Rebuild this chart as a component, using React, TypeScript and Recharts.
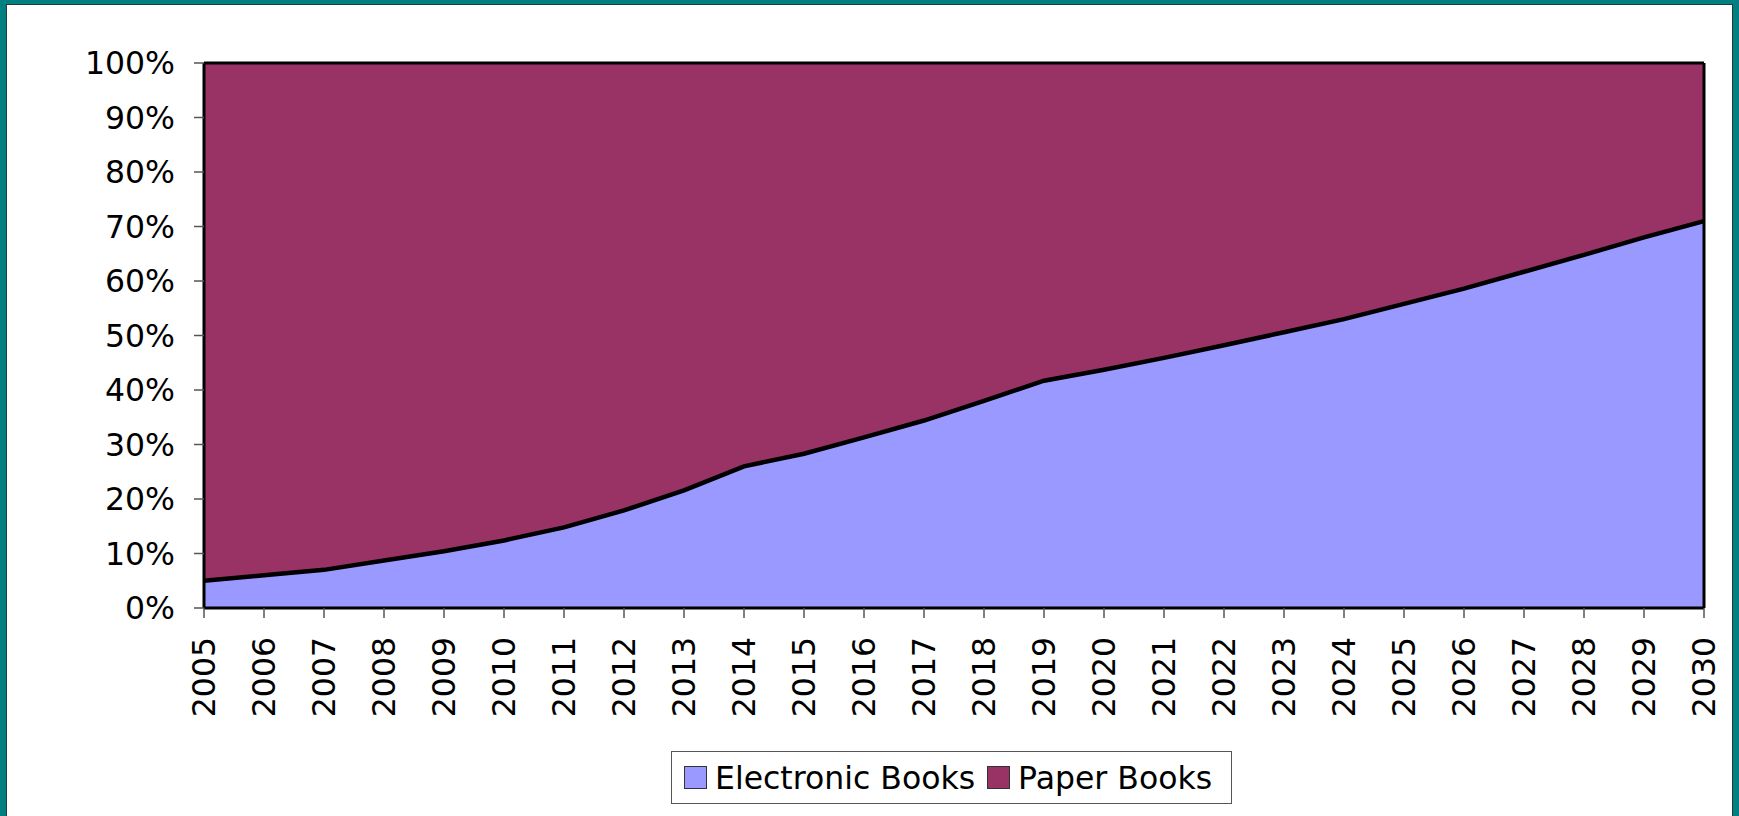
import React from 'react';
import {
  ComposedChart,
  Area,
  Line,
  XAxis,
  YAxis,
  Legend,
  ReferenceLine,
} from 'recharts';

// Years along the bottom
const years = [
  '2005', '2006', '2007', '2008', '2009', '2010', '2011', '2012', '2013',
  '2014', '2015', '2016', '2017', '2018', '2019', '2020', '2021', '2022',
  '2023', '2024', '2025', '2026', '2027', '2028', '2029', '2030',
];

// Share of the market (%)
const electronicBooks = [
  5, 6, 7, 8.7, 10.4, 12.4, 14.8, 17.9, 21.6, 26, 28.3, 31.3, 34.4,
  38, 41.7, 43.7, 45.9, 48.2, 50.6, 53, 55.8, 58.6, 61.7, 64.8, 68, 71,
];
const paperBooks = [
  95, 94, 93, 91.3, 89.6, 87.6, 85.2, 82.1, 78.4, 74, 71.7, 68.7, 65.6,
  62, 58.3, 56.3, 54.1, 51.8, 49.4, 47, 44.2, 41.4, 38.3, 35.2, 32, 29,
];

const yTicks = [0, 10, 20, 30, 40, 50, 60, 70, 80, 90, 100];

const FONT = '"DejaVu Sans", Verdana, sans-serif';
const FONT_SIZE = 31.5;
const COLORS: Record<string, string> = {
  'Electronic Books': '#9999ff',
  'Paper Books': '#993366',
};

const data = years.map((year, i) => ({
  year,
  'Electronic Books': electronicBooks[i],
  'Paper Books': paperBooks[i],
}));

// rotated year labels, read bottom to top
const YearTick = (props: any) => {
  const { x, y, payload } = props;
  return (
    <g transform={`translate(${x},${y})`}>
      <text
        transform="rotate(-90)"
        x={0}
        y={0}
        dy="0.36em"
        textAnchor="end"
        fill="#000"
        fontSize={FONT_SIZE}
        fontFamily={FONT}
      >
        {payload.value}
      </text>
    </g>
  );
};

const LegendBox = (props: any) => {
  // the boundary Line repeats the electronic series name, keep one of each
  const seen: Record<string, boolean> = {};
  const items = (props.payload || []).filter((it: any) => {
    if (!COLORS[it.value] || seen[it.value]) return false;
    seen[it.value] = true;
    return true;
  });
  return (
    <div
      style={{
        boxSizing: 'border-box',
        height: 53,
        width: 561,
        border: '1px solid #555',
        background: '#fff',
        display: 'flex',
        alignItems: 'center',
        paddingLeft: 12,
        fontFamily: FONT,
        fontSize: FONT_SIZE,
        color: '#000',
        whiteSpace: 'nowrap',
      }}
    >
      {items.map((item: any, i: number) => (
        <div key={i} style={{ display: 'flex', alignItems: 'center', marginRight: 12 }}>
          <span
            style={{
              display: 'inline-block',
              width: 23,
              height: 23,
              boxSizing: 'border-box',
              border: '1px solid #333',
              background: COLORS[item.value],
              marginRight: 8,
            }}
          />
          <span>{item.value}</span>
        </div>
      ))}
    </div>
  );
};

export default function App() {
  return (
    <div style={{ position: 'fixed', left: 0, top: 0, width: 1739, height: 816, background: '#008080', overflow: 'hidden' }}>
      <div
        style={{
          position: 'absolute',
          left: 6,
          top: 4,
          width: 1727,
          height: 830,
          boxSizing: 'border-box',
          background: '#fff',
          border: '1px solid #1e3c3c',
        }}
      />
      <div style={{ position: 'absolute', left: 0, top: 0 }}>
        <ComposedChart
          width={1739}
          height={816}
          data={data}
          margin={{ top: 63, right: 35, bottom: 0, left: 0 }}
        >
          <XAxis
            dataKey="year"
            interval={0}
            tick={<YearTick />}
            tickSize={10}
            tickMargin={19}
            tickLine={{ stroke: '#555', strokeWidth: 1.5 }}
            axisLine={false}
            height={155}
          />
          <YAxis
            domain={[0, 100]}
            ticks={yTicks}
            tickFormatter={(v: number) => `${v}%`}
            interval={0}
            width={204}
            tickSize={10}
            tickMargin={19}
            tick={{ fill: '#000', fontSize: FONT_SIZE, fontFamily: FONT }}
            tickLine={{ stroke: '#555', strokeWidth: 1.5 }}
            axisLine={false}
          />
          <Area
            type="linear"
            dataKey="Electronic Books"
            stackId="share"
            fill={COLORS['Electronic Books']}
            fillOpacity={1}
            stroke="none"
            isAnimationActive={false}
          />
          <Area
            type="linear"
            dataKey="Paper Books"
            stackId="share"
            fill={COLORS['Paper Books']}
            fillOpacity={1}
            stroke="none"
            isAnimationActive={false}
          />
          {/* boundary between the two shares */}
          <Line
            type="linear"
            dataKey="Electronic Books"
            stroke="#000"
            strokeWidth={4.5}
            dot={false}
            activeDot={false}
            legendType="none"
            isAnimationActive={false}
          />
          {/* plot frame */}
          <ReferenceLine y={100} stroke="#000" strokeWidth={3} />
          <ReferenceLine y={0} stroke="#000" strokeWidth={3} />
          <ReferenceLine x={years[0]} stroke="#000" strokeWidth={3} />
          <ReferenceLine x={years[years.length - 1]} stroke="#000" strokeWidth={3} />
          <Legend
            verticalAlign="bottom"
            content={<LegendBox />}
            wrapperStyle={{ left: 671, width: 561, bottom: 12 }}
          />
        </ComposedChart>
      </div>
    </div>
  );
}
